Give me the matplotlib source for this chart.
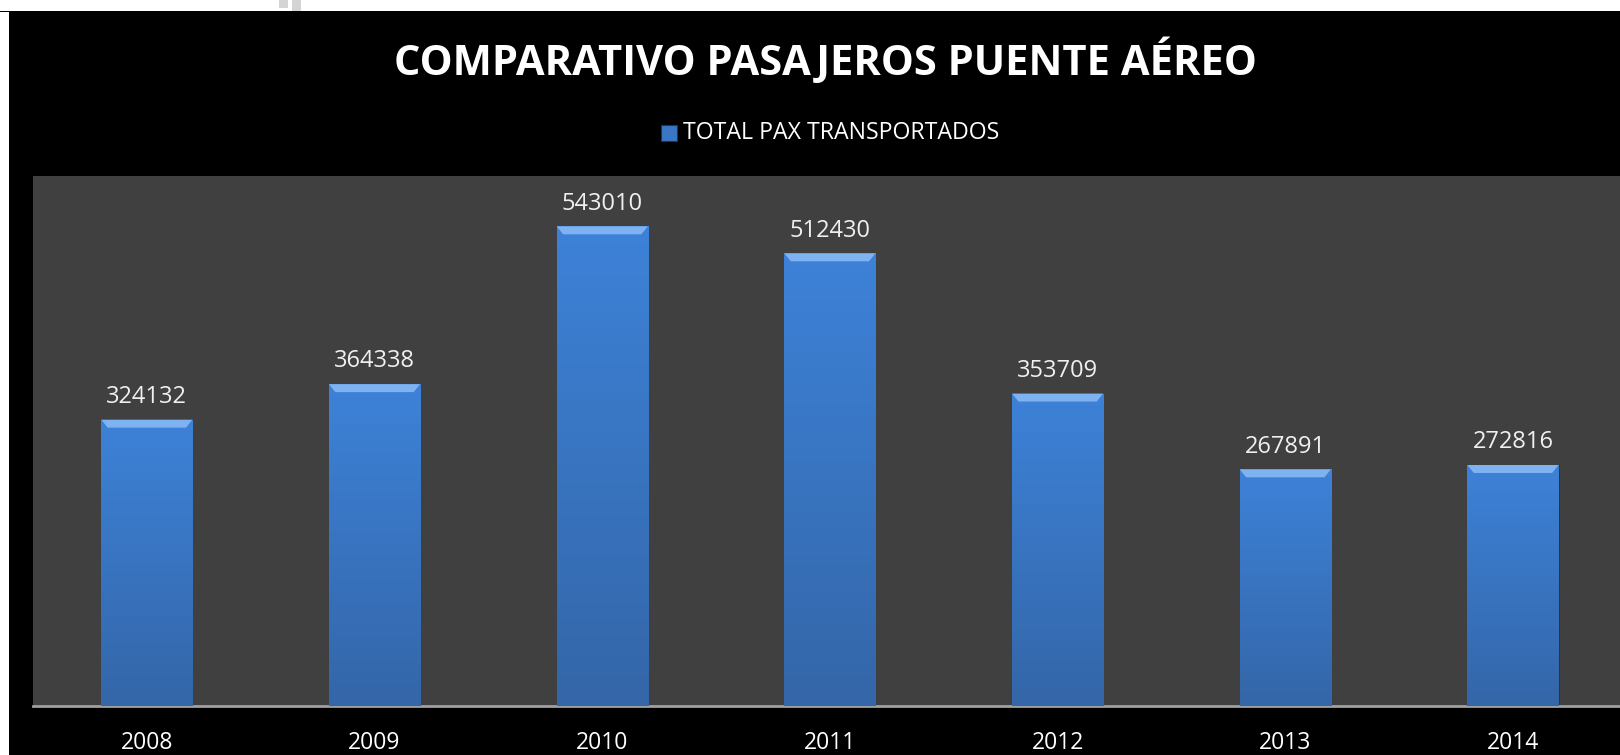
import matplotlib.pyplot as plt
import numpy as np
from matplotlib.patches import Rectangle
from matplotlib.colors import LinearSegmentedColormap

years = ['2008', '2009', '2010', '2011', '2012', '2013', '2014']
pax = [324132, 364338, 543010, 512430, 353709, 267891, 272816]

title = 'COMPARATIVO PASAJEROS PUENTE AÉREO'
legend_label = 'TOTAL PAX TRANSPORTADOS'

plt.rcParams['font.family'] = ['Open Sans', 'DejaVu Sans']

fig = plt.figure(figsize=(16.2, 7.55), dpi=100)
fig.patch.set_facecolor('white')

W, H = 1620.0, 755.0
# black chart background (white strip on top and left like the screenshot)
fig.patches.append(Rectangle((9 / W, 0), 1 - 9 / W, 1 - 12 / H, transform=fig.transFigure,
                             facecolor='black', edgecolor='none', zorder=-5))
fig.patches.append(Rectangle((0, 1 - 12 / H), 1, 1.5 / H, transform=fig.transFigure,
                             facecolor='black', edgecolor='none', zorder=-5))
# little grey bits of the screenshot at the top edge
fig.patches.append(Rectangle((279 / W, 1 - 8 / H), 9 / W, 8 / H, transform=fig.transFigure,
                             facecolor='#d4d4d4', edgecolor='none', zorder=-4))
fig.patches.append(Rectangle((292 / W, 1 - 11 / H), 9 / W, 11 / H, transform=fig.transFigure,
                             facecolor='#d4d4d4', edgecolor='none', zorder=-4))

ax = fig.add_axes([33 / W, 1 - 706 / H, 1 - 33 / W, (706 - 176) / H])
ax.set_zorder(2)
ax.set_facecolor('#404040')

x = np.arange(len(years))
bw = 0.4
bars = ax.bar(x, pax, width=bw, color='#3a76c4', edgecolor='#1d3557', linewidth=0.8, zorder=2)

# vertical gradient + bevel on each bar
grad = np.linspace(0, 1, 256).reshape(-1, 1)
cmap = LinearSegmentedColormap.from_list('b', ['#3466a8', '#3d82d8'])
for b in bars:
    x0, w, h = b.get_x(), b.get_width(), b.get_height()
    im = ax.imshow(grad, extent=(x0, x0 + w, 0, h), origin='lower', cmap=cmap,
                   aspect='auto', zorder=3)
    im.set_clip_path(b)
    ax.fill([x0, x0 + w, x0 + w * 0.93, x0 + w * 0.07],
            [h, h, h - 9000, h - 9000], color='#7fb2f0', zorder=4, lw=0)
    ax.text(x0 + w / 2, h + 19000, str(int(h)), ha='center', va='baseline',
            color='#f0f0f0', fontsize=17)

ax.set_xlim(-0.5, 6.47)
ax.set_ylim(0, 600000)
ax.set_yticks([])
ax.set_xticks(x)
ax.set_xticklabels(years, color='white', fontsize=16.5)
ax.tick_params(axis='x', length=0, pad=18)
for s in ['top', 'right', 'left']:
    ax.spines[s].set_visible(False)
ax.spines['bottom'].set_color('#a0a0a0')
ax.spines['bottom'].set_linewidth(2)

fig.text(825 / W, 1 - 62 / H, title, ha='center', va='center', color='white',
         fontsize=30, fontweight='bold')

# legend
fig.patches.append(Rectangle((661 / W, 1 - 141 / H), 16 / W, 16 / H, transform=fig.transFigure,
                             facecolor='#3a76c4', edgecolor='#1d3557', lw=0.8, zorder=3))
fig.text(683 / W, 1 - 133 / H, legend_label, ha='left', va='center', color='white', fontsize=16.7)

fig.savefig('out.png', dpi=100, facecolor=fig.get_facecolor())
